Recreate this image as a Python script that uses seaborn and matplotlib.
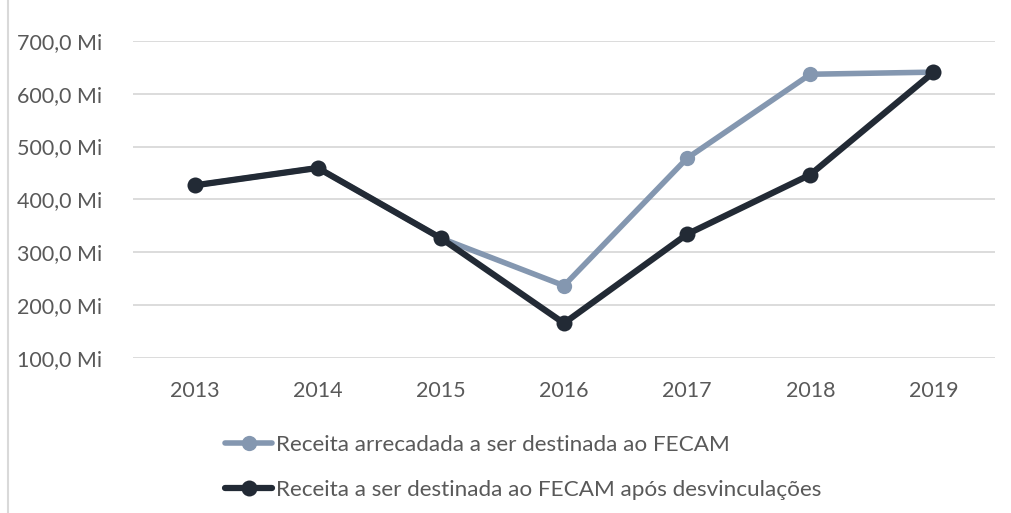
import pandas as pd
import matplotlib.pyplot as plt
import matplotlib.lines as mlines
import seaborn as sns

years = [2013, 2014, 2015, 2016, 2017, 2018, 2019]
receita_arrecadada = [426.5, 459.5, 326.5, 236.5, 478.0, 637.0, 641.0]
receita_desvinc = [426.5, 459.5, 326.5, 165.3, 334.0, 446.8, 640.5]
series_names = ["Receita arrecadada a ser destinada ao FECAM",
                "Receita a ser destinada ao FECAM após desvinculações"]
y_ticks = [100, 200, 300, 400, 500, 600, 700]

light = "#8497B0"
dark = "#222A35"
text_color = "#595959"

sns.set_theme(style="white")
plt.rcParams['font.family'] = ['Lato', 'DejaVu Sans']

df = pd.DataFrame({"ano": years, "a": receita_arrecadada, "b": receita_desvinc})

fig = plt.figure(figsize=(10.11, 5.13), dpi=100)
ax = fig.add_axes([133 / 1011, 1 - 357.7 / 513, (995 - 133) / 1011, (357.7 - 41) / 513])

sns.lineplot(data=df, x="ano", y="a", ax=ax, color=light, linewidth=4,
             marker="o", markersize=11, markeredgewidth=0, zorder=3)
sns.lineplot(data=df, x="ano", y="b", ax=ax, color=dark, linewidth=4.5,
             marker="o", markersize=11.5, markeredgewidth=0, zorder=4)

ax.set_xlim(2012.5, 2019.5)
ax.set_ylim(100, 700)
ax.set_xticks(years)
ax.set_xticklabels([str(y) for y in years])
ax.set_yticks(y_ticks)
ax.set_yticklabels([f"{v},0 Mi" for v in y_ticks])
ax.set_xlabel("")
ax.set_ylabel("")
ax.grid(axis="y", color="#D9D9D9", linewidth=1.3)
ax.grid(axis="x", visible=False)
for s in ax.spines.values():
    s.set_visible(False)
ax.tick_params(axis="both", colors=text_color, labelsize=15.5, length=0)
ax.tick_params(axis="y", pad=22)
ax.tick_params(axis="x", pad=17)

handles = [
    mlines.Line2D([], [], color=light, linewidth=4, marker="o", markersize=11, markeredgewidth=0),
    mlines.Line2D([], [], color=dark, linewidth=4.5, marker="o", markersize=11.5, markeredgewidth=0),
]
leg = fig.legend(handles, series_names, loc="lower left", bbox_to_anchor=(225 / 1011, 0.026),
                 frameon=False, fontsize=16.2, handlelength=2.1, handletextpad=0.15,
                 labelspacing=1.1, labelcolor=text_color, borderpad=0, borderaxespad=0)

# chart frame edge on the left
fig.add_artist(mlines.Line2D([8 / 1011, 8 / 1011], [0, 1], color="#D9D9D9", linewidth=1.5))

fig.savefig("out.png", dpi=100)
